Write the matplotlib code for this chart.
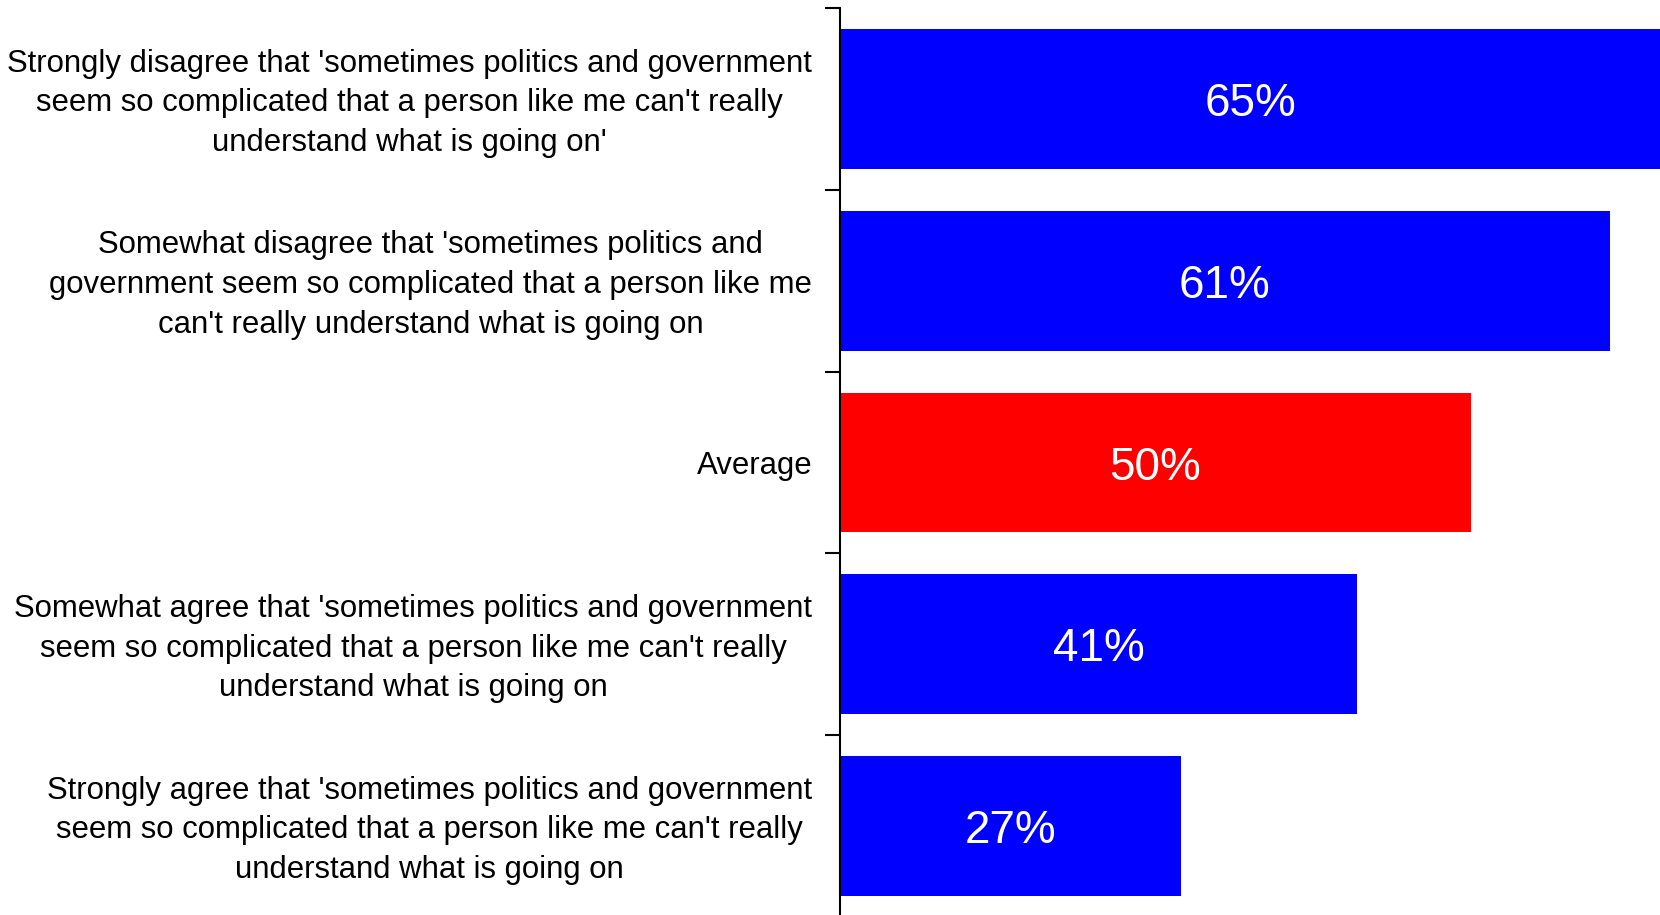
import matplotlib.pyplot as plt
import matplotlib.transforms as mtransforms
import numpy as np

# ── Data ────────────────────────────────────────────────────
categories = [
    "Strongly disagree that 'sometimes politics and government\nseem so complicated that a person like me can't really\nunderstand what is going on'",
    "Somewhat disagree that 'sometimes politics and\ngovernment seem so complicated that a person like me\ncan't really understand what is going on",
    "Average",
    "Somewhat agree that 'sometimes politics and government\nseem so complicated that a person like me can't really\nunderstand what is going on",
    "Strongly agree that 'sometimes politics and government\nseem so complicated that a person like me can't really\nunderstand what is going on",
]
values = [65, 61, 50, 41, 27]
bar_colors = ['#0000FF', '#0000FF', '#FF0000', '#0000FF', '#0000FF']

plt.rcParams['font.family'] = ['Liberation Sans', 'DejaVu Sans']

fig = plt.figure(figsize=(16.6, 9.15), dpi=100)
ax = fig.add_axes([840 / 1660, -2 / 915, 1 - 840 / 1660, 1 - 6 / 915])

y = np.arange(len(categories))
ax.barh(y, values, height=0.77, color=bar_colors, edgecolor='none')

for yi, v in zip(y, values):
    ax.text(v / 2, yi, f"{v}%", ha='center', va='center_baseline', color='white', fontsize=33)

ax.set_xlim(0, 65)
ax.set_ylim(len(categories) - 0.5, -0.5)

ax.set_yticks(y)
ax.set_yticklabels(categories, fontsize=22.4)
ax.tick_params(axis='y', which='major', length=0, pad=20)
# nudge the multi-line labels up a little so they sit centred on the bars
shift = mtransforms.ScaledTranslation(0, 4 / 100, fig.dpi_scale_trans)
for lab in ax.get_yticklabels():
    lab.set_multialignment('center')
    lab.set_linespacing(1.42)
    if '\n' in lab.get_text():
        lab.set_transform(lab.get_transform() + shift)

ax.set_yticks(np.arange(len(categories)) - 0.5, minor=True)
ax.tick_params(axis='y', which='minor', length=11, width=1.5)

ax.xaxis.set_visible(False)
for s in ['top', 'right', 'bottom']:
    ax.spines[s].set_visible(False)
ax.spines['left'].set_linewidth(1.5)

fig.savefig('out.png', dpi=100)
